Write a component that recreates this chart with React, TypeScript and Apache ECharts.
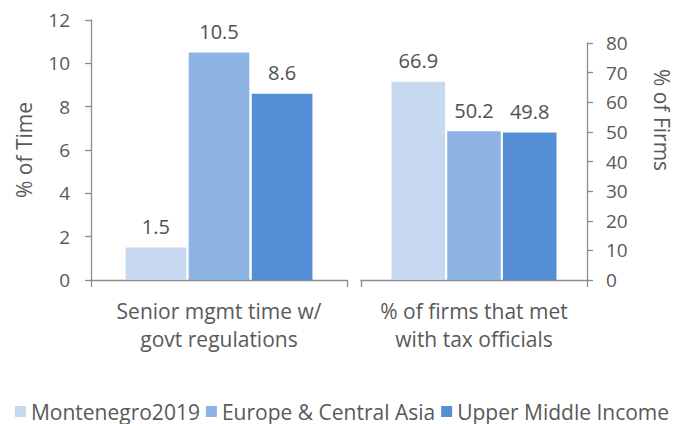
import React, { useEffect, useRef } from "react";
import * as echarts from "echarts";

const seriesNames = ["Montenegro2019", "Europe & Central Asia", "Upper Middle Income"];
const colors = ["#C6D9F1", "#8EB4E3", "#558ED5"];
const leftCategory = ["Senior mgmt time w/\ngovt regulations"];
const rightCategory = ["% of firms that met\nwith tax officials"];
const timeValues = [1.5, 10.5, 8.6];
const firmValues = [66.9, 50.2, 49.8];
const leftAxisName = "% of Time";
const rightAxisName = "% of Firms";

const FONT = "Open Sans";
const TXT = "#595959";
const AX = "#8C8C8C";

export default function App() {
  const ref = useRef<HTMLDivElement>(null);
  useEffect(() => {
    const chart = echarts.init(ref.current!, null, { renderer: "svg" });
    const label = {
      show: true,
      position: "top",
      distance: 11,
      fontFamily: FONT,
      fontSize: 20,
      color: "#505050",
      formatter: (p: any) => p.value.toFixed(1),
    };
    const series: any[] = [];
    seriesNames.forEach((n, i) => {
      series.push({
        name: n,
        type: "bar",
        xAxisIndex: 0,
        yAxisIndex: 0,
        data: [timeValues[i]],
        itemStyle: { color: colors[i] },
        barGap: "4%",
        barCategoryGap: "27%",
        label,
      });
    });
    seriesNames.forEach((n, i) => {
      series.push({
        name: n,
        type: "bar",
        xAxisIndex: 1,
        yAxisIndex: 1,
        data: [firmValues[i]],
        itemStyle: { color: colors[i] },
        barGap: "4%",
        barCategoryGap: "27%",
        label,
      });
    });
    const xCommon = {
      type: "category",
      axisLine: { show: true, lineStyle: { color: AX, width: 1.3 } },
      axisTick: { show: true, alignWithLabel: false, length: 7, lineStyle: { color: AX, width: 1.3 } },
      axisLabel: { color: TXT, fontFamily: FONT, fontSize: 21, margin: 17, lineHeight: 28, interval: 0 },
    };
    const yCommon = {
      type: "value",
      splitLine: { show: false },
      axisLine: { show: true, lineStyle: { color: AX, width: 1.3 } },
      axisTick: { show: true, length: 6, lineStyle: { color: AX, width: 1.3 } },
      nameTextStyle: { color: TXT, fontFamily: FONT, fontSize: 21 },
    };
    chart.setOption({
      animation: false,
      textStyle: { fontFamily: FONT },
      legend: {
        data: seriesNames,
        top: 396,
        left: "center",
        itemWidth: 11,
        itemHeight: 11,
        itemGap: 6,
        icon: "rect",
        textStyle: { color: TXT, fontFamily: FONT, fontSize: 21 },
      },
      grid: [
        { left: 91, width: 256, top: 20, bottom: 144, outerBoundsMode: "none" },
        { left: 361, width: 226, top: 43, bottom: 144, outerBoundsMode: "none" },
      ],
      xAxis: [
        { ...xCommon, gridIndex: 0, data: leftCategory },
        { ...xCommon, gridIndex: 1, data: rightCategory },
      ],
      yAxis: [
        {
          ...yCommon,
          gridIndex: 0,
          min: 0,
          max: 12,
          interval: 2,
          position: "left",
          name: leftAxisName,
          nameLocation: "middle",
          nameGap: 57,
          nameRotate: 90,
          axisLabel: { color: TXT, fontFamily: FONT, fontSize: 19, margin: 21 },
        },
        {
          ...yCommon,
          gridIndex: 1,
          min: 0,
          max: 80,
          interval: 10,
          position: "right",
          axisLabel: { color: TXT, fontFamily: FONT, fontSize: 19, margin: 19 },
        },
      ],
      graphic: [
        {
          type: "text",
          x: 662,
          y: 120,
          rotation: -Math.PI / 2,
          style: {
            text: rightAxisName,
            fill: TXT,
            font: `21px "${FONT}"`,
            align: "center",
            verticalAlign: "middle",
          },
        },
      ],
      series,
    });
    return () => chart.dispose();
  }, []);
  return <div ref={ref} style={{ position: "absolute", left: 0, top: 0, width: 684, height: 424 }} />;
}
